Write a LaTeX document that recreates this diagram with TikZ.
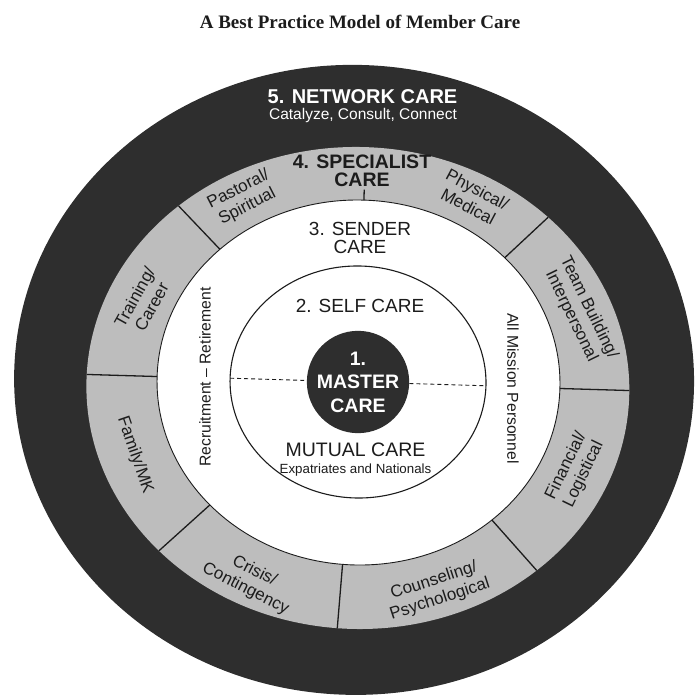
\documentclass[tikz,border=0pt]{standalone}
\usepackage{fontspec}
\setmainfont{Liberation Sans}
\newfontfamily\titlefont{Liberation Serif}
\usetikzlibrary{calc}

\definecolor{ringdark}{HTML}{2E2E2E}
\definecolor{ringgray}{HTML}{BDBDBD}
\definecolor{inkdark}{HTML}{1C1C1C}

\tikzset{
  segtext/.style={font=\fontsize{17}{19.5}\selectfont, align=center, text=inkdark, inner sep=0pt},
  ringtext/.style={font=\fontsize{19}{18}\selectfont, align=center, text=inkdark, inner sep=0pt},
  sidetext/.style={font=\fontsize{15.7}{18}\selectfont, text=inkdark, inner sep=0pt},
  divider/.style={line width=1.3pt, inkdark}
}

\begin{document}
\begin{tikzpicture}[x=1pt, y=-1pt]
\useasboundingbox (0,0) rectangle (696,696);

\node[font=\titlefont\bfseries\fontsize{19}{22}\selectfont, text=inkdark] (title) at (360,22) {A Best Practice Model of Member Care};

\begin{scope}[rotate around={-1.7:(358,383)}]
    \coordinate (cn) at (354,380);
    \coordinate (cg) at (358,388);
    \coordinate (cw) at (358.5,382.5);
    \coordinate (cs) at (358,382);

    % Network care
    \fill[ringdark] (cn) ellipse (340pt and 315pt);

    % Specialist care
    \fill[ringgray] (cg) ellipse (271.5pt and 241pt);

    % Sender care
    \draw[line width=0.9pt, inkdark, fill=white] (cw) ellipse (201.5pt and 182.5pt);

    % Eight specialist segments (the top one stops under the heading)
    \begin{scope}
        \clip (cg) ellipse (271.5pt and 241pt);
        \foreach \a in {0,45,135,180,224,267,313} {
            \draw[divider] ($(cw)+(\a:201.5pt and 182.5pt)$) -- ($(cw)+(\a:300pt and 280pt)$);
        }
        \draw[divider] ($(cw)+(90:201.5pt and 182.5pt)$) -- ($(cw)+(90:201.5pt and 193pt)$);
    \end{scope}

    % Self care / mutual care
    \draw[line width=1.1pt, inkdark] (cs) ellipse (128pt and 116pt);
    \coordinate (selfW) at ($(cs)+(180:128pt and 116pt)$);
    \coordinate (selfE) at ($(cs)+(0:128pt and 116pt)$);

    % Master care
    \node[circle, fill=ringdark, minimum size=102pt, inner sep=0pt, align=center,
          text=white, font=\bfseries\fontsize{19.5}{23.5}\selectfont] (master) at (cs) {1.\\MASTER\\CARE};

    \draw[line width=0.9pt, dash pattern=on 4pt off 3pt, inkdark] (selfW) -- (master);
    \draw[line width=0.9pt, dash pattern=on 4pt off 3pt, inkdark] (master) -- (selfE);
\end{scope}

\node[font=\bfseries\fontsize{20}{22}\selectfont, text=white] (network) at (362.5,96.5) {5. NETWORK CARE};
\node[font=\fontsize{15.5}{18}\selectfont, text=white] (catalyze) at (363,115) {Catalyze, Consult, Connect};

\node[ringtext, font=\bfseries\fontsize{19.5}{18.5}\selectfont] (specialist) at (362,171) {4. SPECIALIST\\CARE};
\node[ringtext] (sender) at (360,238) {3. SENDER\\CARE};
\node[ringtext] (self) at (360,305.5) {2. SELF CARE};
\node[ringtext, font=\fontsize{19.5}{20}\selectfont] (mutual) at (355.5,449.5) {MUTUAL CARE};
\node[font=\fontsize{13.3}{15}\selectfont, text=inkdark, inner sep=0pt] (expat) at (355.5,470.5) {Expatriates and Nationals};

\node[sidetext, rotate=90] (recruit) at (205,377) {Recruitment -- Retirement};
\node[sidetext, rotate=-90] (mission) at (513,388.5) {All Mission Personnel};

% Specialist segment labels
\node[segtext, rotate=27] (pastoral) at (243,198) {Pastoral/\\Spiritual};
\node[segtext, rotate=-28] (physical) at (473,198) {Physical/\\Medical};
\node[segtext, rotate=-64] (team) at (580,312) {Team Building/\\Interpersonal};
\node[segtext, rotate=64] (financial) at (575,470) {Financial/\\Logistical};
\node[segtext, rotate=18] (counseling) at (437,590) {Counseling/\\Psychological};
\node[segtext, rotate=-27] (crisis) at (250,580) {Crisis/\\Contingency};
\node[segtext, rotate=-71] (family) at (135,455) {Family/MK};
\node[segtext, rotate=61] (training) at (143,302) {Training/\\Career};
\end{tikzpicture}
\end{document}
